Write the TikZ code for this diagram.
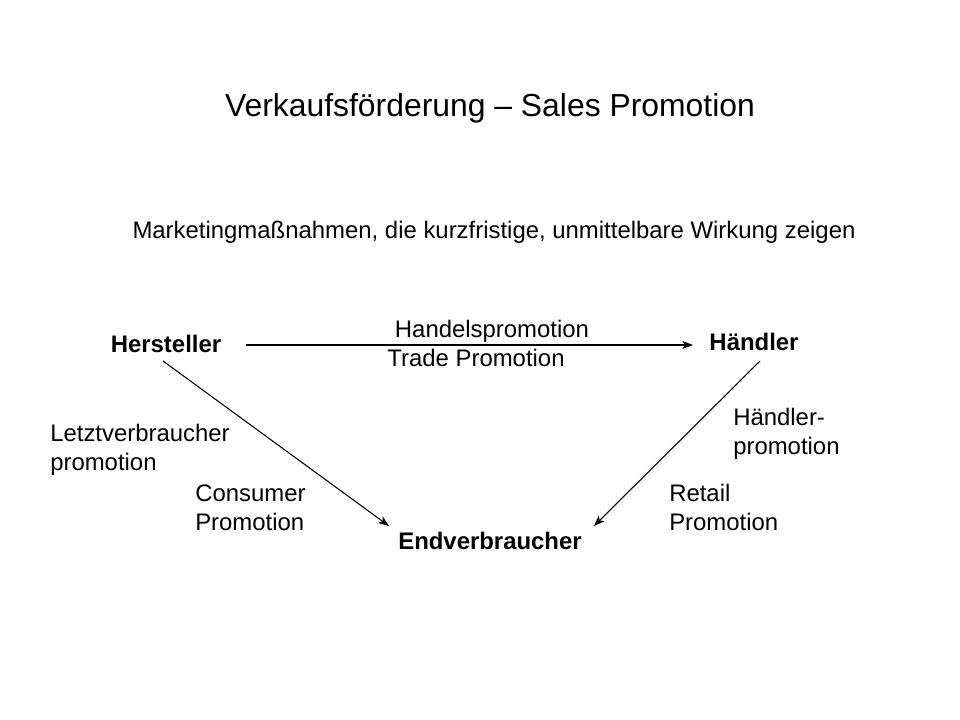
\documentclass[tikz,border=0pt]{standalone}
\usepackage{fontspec}
\setmainfont{Liberation Sans}
\usetikzlibrary{arrows.meta}
\begin{document}
\begin{tikzpicture}[x=0.7528pt,y=-0.7528pt,
  title/.style={font=\fontsize{24}{29}\selectfont, inner sep=0pt, anchor=base},
  txt/.style={font=\fontsize{18}{21.8}\selectfont, inner sep=0pt, anchor=base},
  lbl/.style={font=\fontsize{18}{21.8}\selectfont, inner sep=0pt, anchor=base west, align=left},
  party/.style={font=\fontsize{18}{21.8}\selectfont\bfseries, inner sep=0pt, anchor=base},
  arr/.style={line width=0.8pt, -{Stealth[length=8pt,width=6pt,inset=2pt]}}]
\useasboundingbox (0,0) rectangle (960,720);
\node[title] (title) at (490,116) {Verkaufsförderung – Sales Promotion};
\node[txt] (sub) at (494,238) {Marketingmaßnahmen, die kurzfristige, unmittelbare Wirkung zeigen};
\node[party] (hersteller) at (166,352) {Hersteller};
\node[party] (haendler) at (754,350) {Händler};
\node[party] (endv) at (490,549) {Endverbraucher};
\node[txt] (handels) at (492,337) {Handelspromotion};
\node[txt] (trade) at (476,366) {Trade Promotion};
\node[lbl] (letzt) at (50,470) {Letztverbraucher\\promotion};
\node[lbl] (consumer) at (195,530) {Consumer\\Promotion};
\node[lbl] (hpromo) at (733,454) {Händler-\\promotion};
\node[lbl] (retail) at (669,530) {Retail\\Promotion};
\coordinate (hs) at (246,345);
\coordinate (he) at (693,345);
\coordinate (ls) at (163,361);
\coordinate (le) at (389,526);
\coordinate (rs) at (760,361);
\coordinate (re) at (594,526);
\draw[arr] (hs) -- (he);
\draw[arr] (ls) -- (le);
\draw[arr] (rs) -- (re);
\end{tikzpicture}
\end{document}
